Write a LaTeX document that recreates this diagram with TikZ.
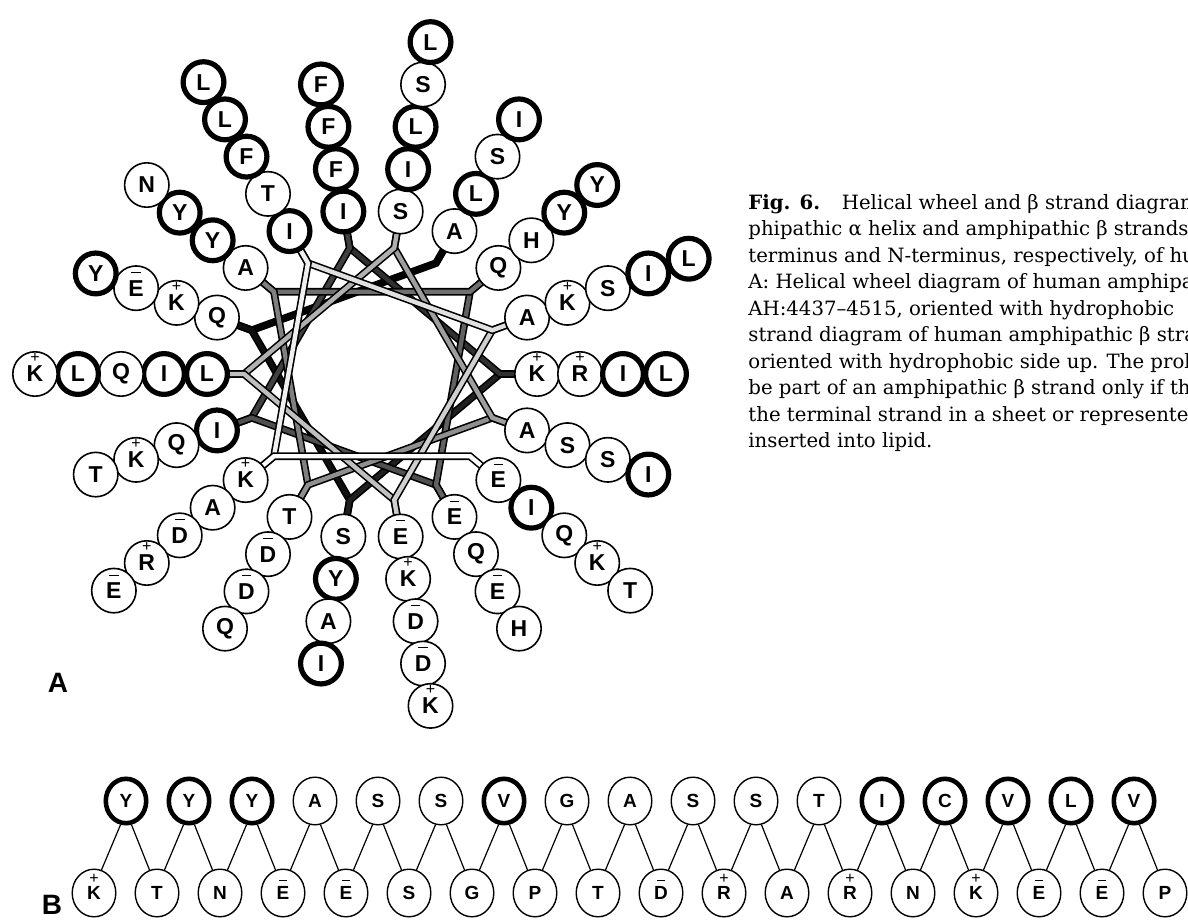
\documentclass[tikz,border=0pt]{standalone}
\usepackage{fontspec}
\setmainfont{DejaVu Serif}
\setsansfont{Liberation Sans}
\usetikzlibrary{shapes.geometric, positioning}

% charge marks over a residue letter
\newcommand{\posres}[1]{\ooalign{#1\cr\hfil\smash{\raisebox{0.85em}{\fontsize{8}{8}\selectfont\mdseries +}}\hfil\cr}}
\newcommand{\negres}[1]{\ooalign{#1\cr\hfil\smash{\raisebox{1.0em}{\rule{0.42em}{0.5pt}}}\hfil\cr}}

\begin{document}
\begin{tikzpicture}[x=0.5pt, y=0.5pt]
  % Styles
  \tikzset{
    res/.style={circle, draw, fill=white, line width=0.8pt, minimum size=22.2pt, inner sep=0pt, font=\sffamily\bfseries\fontsize{11.5}{12}\selectfont},
    hyd/.style={res, line width=2.6pt, minimum size=20.4pt},
    rib/.style={line width=3.8pt, black},
    ribfill/.style={line width=2.2pt},
    sres/.style={ellipse, draw, fill=white, line width=0.7pt, minimum width=21.8pt, minimum height=23.8pt, inner sep=0pt, font=\sffamily\bfseries\fontsize{9.5}{10}\selectfont},
    shyd/.style={sres, line width=2.3pt, minimum width=20.2pt, minimum height=22.2pt},
    leg/.style={line width=0.6pt},
    panel/.style={inner sep=0pt, font=\sffamily\bfseries\fontsize{14}{14}\selectfont},
    caption/.style={inner sep=0pt, align=left, font=\rmfamily\fontsize{9.85}{13.25}\selectfont}
  }
  \path[use as bounding box, clip] (0,0) rectangle (1188,922);

  % Wheel
  \begin{scope}[shift={(372,548)}]
    % ribbon, dark end first so the light start lies on top
    \foreach \a/\b/\g in {160/60/100, 260/160/94, 0/260/88, 100/0/81, 200/100/75, 300/200/69,
        40/300/62, 140/40/56, 240/140/50, 340/240/44, 80/340/38, 180/80/31,
        280/180/25, 20/280/19, 120/20/12, 220/120/6, 320/220/0}{
      \draw[rib] (\a:146) -- (\a:128) -- (\b:128) -- (\b:146);
      \draw[ribfill, black!\g] (\a:146) -- (\a:128) -- (\b:128) -- (\b:146);
    }
    % residues, innermost first
    \foreach \a/\s in {
        0/{res/\posres{K}, res/\posres{R}, hyd/I, hyd/L},
        20/{res/A, res/\posres{K}, res/S, hyd/I, hyd/L},
        40/{res/Q, res/H, hyd/Y, hyd/Y},
        60/{res/A, hyd/L, res/S, hyd/I},
        80/{res/S, hyd/I, hyd/L, res/S, hyd/L},
        100/{hyd/I, hyd/F, hyd/F, hyd/F},
        120/{hyd/I, res/T, hyd/F, hyd/L, hyd/L},
        140/{res/A, hyd/Y, hyd/Y, res/N},
        160/{res/Q, res/\posres{K}, res/\negres{E}, hyd/Y},
        180/{hyd/L, hyd/I, res/Q, hyd/L, res/\posres{K}},
        200/{hyd/I, res/Q, res/\posres{K}, res/T},
        220/{res/\posres{K}, res/A, res/\negres{D}, res/\posres{R}, res/\negres{E}},
        240/{res/T, res/\negres{D}, res/\negres{D}, res/Q},
        260/{res/S, hyd/Y, res/A, hyd/I},
        280/{res/\negres{E}, res/\posres{K}, res/\negres{D}, res/\negres{D}, res/\posres{K}},
        300/{res/\negres{E}, res/Q, res/\negres{E}, res/H},
        320/{res/\negres{E}, hyd/I, res/Q, res/\posres{K}, res/T},
        340/{res/A, res/S, res/S, hyd/I}}{
      \foreach \st/\tx [count=\k] in \s
        \node[\st] (w\a-\k) at (\a:{165+43*(\k-1)}) {\tx};
    }
  \end{scope}
  \node[panel] (labA) at (58,239) {A};

  % Strand
  \foreach \st/\tx [count=\i from 0] in {shyd/Y, shyd/Y, shyd/Y, sres/A, sres/S, sres/S, shyd/V,
      sres/G, sres/A, sres/S, sres/S, sres/T, shyd/I, shyd/C, shyd/V, shyd/L, shyd/V}
    \node[\st] (t\i) at ({126+63*\i},121) {\tx};
  \foreach \st/\tx [count=\i from 0] in {sres/\posres{K}, sres/T, sres/N, sres/\negres{E}, sres/\negres{E},
      sres/S, sres/G, sres/P, sres/T, sres/\negres{D}, sres/\posres{R}, sres/A, sres/\posres{R},
      sres/N, sres/\posres{K}, sres/\negres{E}, sres/\negres{E}, sres/P}
    \node[\st] (b\i) at ({94+63*\i},29) {\tx};
  \foreach \i [count=\j from 1] in {0,...,16}{
    \draw[leg] (t\i.257) -- (b\i.72);
    \draw[leg] (t\i.283) -- (b\j.108);
  }
  \node[panel] (labB) at (52,17) {B};

  % Caption
  \node[caption, anchor=north west] (cap) at (748,728) {\textbf{Fig. 6.}\hspace{1.1em}Helical wheel and β strand diagram\\
    phipathic α helix and amphipathic β strands\\
    terminus and N-terminus, respectively, of human\\
    A: Helical wheel diagram of human amphipathic\\
    AH:4437–4515, oriented with hydrophobic\\
    strand diagram of human amphipathic β strand\\
    oriented with hydrophobic side up. The proline\\
    be part of an amphipathic β strand only if the\\
    the terminal strand in a sheet or represented\\
    inserted into lipid.};
\end{tikzpicture}
\end{document}
